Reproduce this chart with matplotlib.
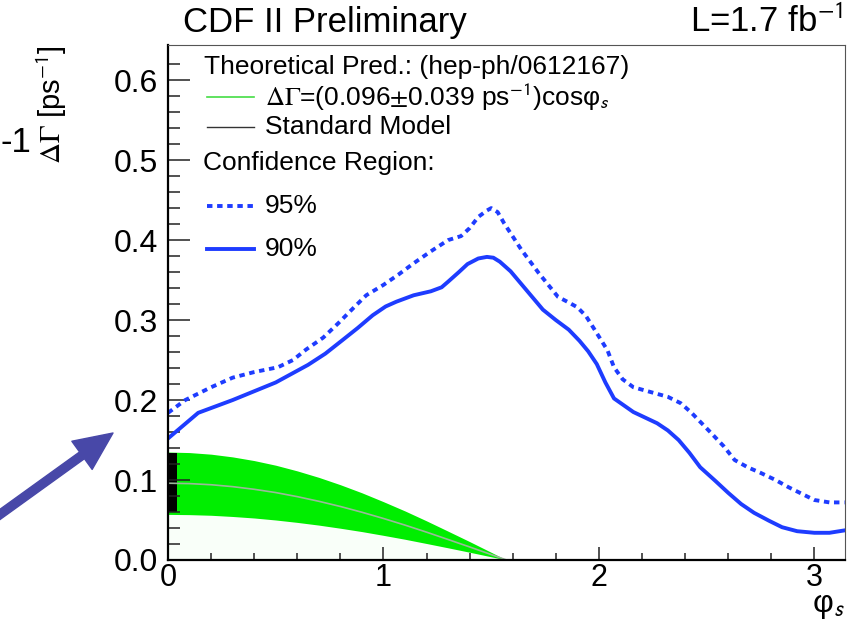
### CDF dGamma vs phi_s confidence regions ###

import numpy as np
import matplotlib
matplotlib.use('Agg')
import matplotlib.pyplot as plt

plt.rcParams['font.family'] = ['Liberation Sans', 'DejaVu Sans']
plt.rcParams['mathtext.fontset'] = 'stix'

# 90% and 95% contours (upper edge)
phi90 = [0.0, 0.14, 0.30, 0.50, 0.65, 0.73, 0.81, 0.88, 0.95, 1.01, 1.06, 1.14, 1.22, 1.27,
         1.30, 1.35, 1.39, 1.44, 1.48, 1.51, 1.54, 1.59, 1.64, 1.74, 1.80, 1.86, 1.91, 1.95,
         1.99, 2.03, 2.07, 2.16, 2.27, 2.32, 2.37, 2.42, 2.47, 2.54, 2.60, 2.66, 2.72, 2.79,
         2.85, 2.92, 3.00, 3.07, 3.14]
cl90 = [0.152, 0.184, 0.200, 0.222, 0.244, 0.258, 0.275, 0.290, 0.306, 0.317, 0.323, 0.331, 0.336, 0.341,
        0.348, 0.360, 0.370, 0.377, 0.379, 0.378, 0.373, 0.361, 0.345, 0.313, 0.300, 0.288, 0.274, 0.261,
        0.245, 0.222, 0.202, 0.185, 0.171, 0.162, 0.150, 0.134, 0.116, 0.099, 0.084, 0.070, 0.059, 0.049,
        0.041, 0.036, 0.034, 0.034, 0.037]

phi95 = [0.0, 0.08, 0.20, 0.30, 0.40, 0.51, 0.58, 0.64, 0.72, 0.79, 0.86, 0.92, 1.00, 1.07,
         1.14, 1.22, 1.30, 1.36, 1.40, 1.44, 1.48, 1.50, 1.53, 1.56, 1.64, 1.72, 1.81, 1.86,
         1.90, 1.94, 1.98, 2.04, 2.07, 2.11, 2.16, 2.24, 2.32, 2.38, 2.43, 2.52, 2.58, 2.63,
         2.69, 2.75, 2.82, 2.88, 3.00, 3.07, 3.14]
cl95 = [0.184, 0.200, 0.216, 0.228, 0.235, 0.241, 0.250, 0.263, 0.278, 0.296, 0.315, 0.331, 0.344, 0.357,
        0.371, 0.386, 0.400, 0.405, 0.415, 0.429, 0.437, 0.440, 0.435, 0.421, 0.388, 0.359, 0.329, 0.322,
        0.316, 0.305, 0.288, 0.262, 0.241, 0.226, 0.216, 0.210, 0.204, 0.196, 0.184, 0.159, 0.142, 0.125,
        0.116, 0.109, 0.100, 0.091, 0.075, 0.072, 0.072]

# theoretical prediction band dG = (0.096 +- 0.039) cos(phi)
phi_th = [0.0, 0.1, 0.2, 0.3, 0.4, 0.5, 0.6, 0.7, 0.8, 0.9, 1.0, 1.1, 1.2, 1.3, 1.4, 1.5, 1.571]
th_mid = [0.096, 0.0955, 0.0941, 0.0917, 0.0884, 0.0843, 0.0792, 0.0734, 0.0669, 0.0597,
          0.0519, 0.0436, 0.0348, 0.0256, 0.0163, 0.0068, 0.0]
th_hi = [0.135, 0.1343, 0.1323, 0.1289, 0.1243, 0.1185, 0.1114, 0.1033, 0.0941, 0.0840,
         0.0729, 0.0613, 0.0489, 0.0360, 0.0230, 0.0096, 0.0]
th_lo = [0.057, 0.0567, 0.0559, 0.0544, 0.0525, 0.0500, 0.0470, 0.0436, 0.0397, 0.0355,
         0.0308, 0.0259, 0.0206, 0.0152, 0.0097, 0.0040, 0.0]

# standard model value at phi_s ~ 0
sm_lo = 0.060
sm_hi = 0.134

blue = '#1e3cff'

fig = plt.figure(figsize=(8.63, 6.22), dpi=100)
ax = fig.add_axes([0.1947, 0.0997, 0.7843, 0.828])

ax.fill_between(phi_th, 0, th_lo, color='#00ff00', alpha=0.025, lw=0)
ax.fill_between(phi_th, th_lo, th_hi, color='#00ee00', lw=0)
ax.plot(phi_th, th_mid, color='#9ab89a', lw=1.2)
ax.bar(0, sm_hi - sm_lo, bottom=sm_lo, width=0.042, align='edge', color='k')

ax.plot(phi95, cl95, color=blue, lw=2.8, ls=(0, (1.4, 1.2)), solid_joinstyle='round')
ax.plot(phi90, cl90, color=blue, lw=2.8, solid_joinstyle='round')

ax.set_xlim(0, np.pi)
ax.set_ylim(0, 0.644)
ax.set_xticks([0, 1, 2, 3])
ax.set_xticks(np.arange(0, 3.15, 0.2), minor=True)
ax.set_yticks([0.0, 0.1, 0.2, 0.3, 0.4, 0.5, 0.6])
ax.set_yticklabels(['0.0', '0.1', '0.2', '0.3', '0.4', '0.5', '0.6'])
ax.set_yticks(np.arange(0, 0.64, 0.02), minor=True)

ax.tick_params(which='both', direction='in', labelsize=23, width=1.1, color='#222222')
ax.tick_params(axis='y', which='major', length=16, pad=7)
ax.tick_params(axis='y', which='minor', length=8.5)
ax.tick_params(axis='x', which='major', length=9.5, pad=2, labelsize=22)
ax.tick_params(axis='x', which='minor', length=5)
for s in ['left', 'bottom']:
    ax.spines[s].set_linewidth(1.6)
for s in ['top', 'right']:
    ax.spines[s].set_linewidth(0.8)
    ax.spines[s].set_color('#555555')

# legend drawn by hand (ROOT style, no box)
tr = ax.transAxes
def ax_xy(px, py):
    return (px - 168) / 677.0, (560 - py) / 515.0

fs_leg = 19
x0, y0 = ax_xy(204, 67)
ax.text(x0, y0, 'Theoretical Pred.: (hep-ph/0612167)', transform=tr, fontsize=fs_leg, va='center')
entries = [
    (97, r'$\Delta\Gamma$=(0.096$\pm$0.039 ps$^{\mathsf{-1}}$)cosφ$_{\mathsf{s}}$',
     dict(color='#44dd44', lw=1.2)),
    (127, 'Standard Model', dict(color='#333333', lw=1.0)),
    (206, '95%', dict(color=blue, lw=2.8, ls=(0, (1.4, 1.2)))),
    (249, '90%', dict(color=blue, lw=2.8)),
]
for py, label, style in entries:
    xa, ya = ax_xy(207, py)
    xb, _ = ax_xy(254, py)
    ax.plot([xa, xb], [ya, ya], transform=tr, **style)
    xt, _ = ax_xy(265, py)
    ax.text(xt, ya, label, transform=tr, fontsize=fs_leg, va='center')
x0, y0 = ax_xy(203, 163)
ax.text(x0, y0, 'Confidence Region:', transform=tr, fontsize=fs_leg, va='center')

# titles and axis labels
fig.text(183 / 863, 1 - 32 / 622, 'CDF II Preliminary', fontsize=25, va='baseline')
fig.text(843 / 863, 1 - 32 / 622, r'L=1.7 fb$^{\mathsf{-1}}$', fontsize=25, va='baseline', ha='right')
fig.text(52 / 863, 1 - 45 / 622, r'$\Delta\Gamma$ [ps$^{\mathsf{-1}}$]', fontsize=21,
         rotation=90, ha='center', va='top')
fig.text(0, 1 - 143 / 622, '-1', fontsize=25, ha='left', va='center')
fig.text(845 / 863, 1 - 621 / 622, r'φ$_{\mathsf{s}}$', fontsize=23, ha='right', va='bottom')

# arrow pointing at the SM value
ax.annotate('', xy=(113, 622 - 433), xycoords='figure pixels',
            xytext=(-5, 622 - 518), textcoords='figure pixels',
            arrowprops=dict(arrowstyle='simple,head_length=1.1,head_width=1.0,tail_width=0.24',
                            mutation_scale=25, color='#4848a8', shrinkA=0, shrinkB=0),
            annotation_clip=False)

fig.savefig('out.png', dpi=fig.dpi)
